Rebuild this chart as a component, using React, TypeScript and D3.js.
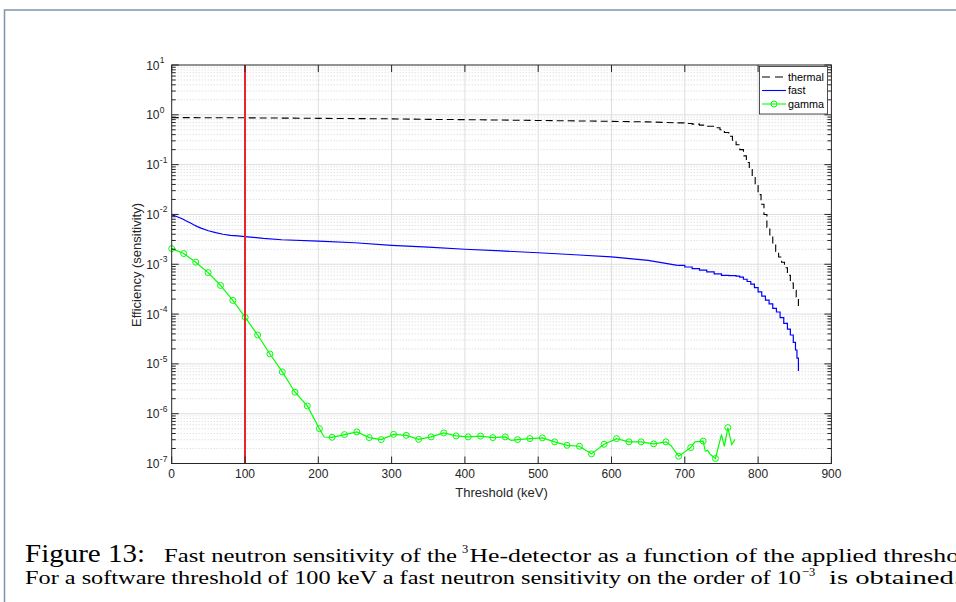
import React from 'react';
import * as d3 from 'd3';

const xTicks = [0, 100, 200, 300, 400, 500, 600, 700, 800, 900];
const yExponents = [1, 0, -1, -2, -3, -4, -5, -6, -7];

// thermal: [keV, efficiency]
const thermalHead: number[][] = [
  [0, 0.88], [50, 0.875], [100, 0.87], [150, 0.86], [200, 0.85], [250, 0.84], [300, 0.83],
  [350, 0.81], [400, 0.8], [450, 0.785], [500, 0.77], [550, 0.755], [600, 0.74], [650, 0.72], [690, 0.69],
];
const thermalTail: number[][] = [
  [690, 0.69], [700, 0.67], [710, 0.65], [720, 0.62], [730, 0.59], [740, 0.55], [748, 0.5], [754, 0.44],
  [760, 0.37], [765, 0.31], [770, 0.25], [775, 0.2], [780, 0.15], [784, 0.11], [788, 0.08], [792, 0.055],
  [796, 0.038], [800, 0.025], [804, 0.016], [808, 0.01], [812, 0.0055], [816, 0.0036], [820, 0.0026],
  [824, 0.0018], [828, 0.0014], [832, 0.0011], [836, 0.00085], [840, 0.0006], [844, 0.00042],
  [848, 0.0003], [852, 0.00022], [855, 0.00014],
];

// fast: [keV, efficiency]
const fastHead: number[][] = [
  [0, 0.0098], [5, 0.0093], [10, 0.0087], [15, 0.0081], [20, 0.0074], [25, 0.0068], [30, 0.0062],
  [35, 0.0057], [40, 0.0053], [50, 0.0047], [60, 0.0043], [70, 0.004], [80, 0.0038], [90, 0.0037],
  [100, 0.0036], [125, 0.0033], [150, 0.0031], [200, 0.0029], [250, 0.0027], [300, 0.0024],
  [350, 0.0022], [400, 0.002], [450, 0.00185], [500, 0.0017], [550, 0.00155], [600, 0.0014],
  [650, 0.0012], [690, 0.00095],
];
const fastTail: number[][] = [
  [690, 0.00095], [700, 0.00088], [710, 0.00082], [720, 0.00076], [730, 0.0007], [740, 0.00064],
  [750, 0.0006], [760, 0.00059], [770, 0.00058], [775, 0.00055], [780, 0.0005], [785, 0.00045],
  [790, 0.0004], [795, 0.00034], [800, 0.00028], [805, 0.00023], [810, 0.00019], [815, 0.00016],
  [820, 0.00013], [825, 0.00011], [830, 0.000085], [835, 0.000065], [840, 0.00005], [844, 0.000038],
  [848, 0.000027], [851, 0.000019], [853, 0.000013], [855, 0.0000072],
];

// gamma: [keV, efficiency, marker(1/0)]
const gammaPts: number[][] = [
  [0, 2.06e-3, 1], [16.4, 1.64e-3, 1], [32.8, 1.1e-3, 1], [49.7, 6.8e-4, 1], [66.6, 3.75e-4, 1],
  [83.4, 1.88e-4, 1], [100.3, 8.6e-5, 1], [117.2, 3.8e-5, 1], [134, 1.58e-5, 1], [150.9, 6.9e-6, 1],
  [168.2, 2.7e-6, 1], [185, 1.43e-6, 1], [201.5, 5.0e-7, 1], [208, 3.4e-7, 0], [218.8, 3.36e-7, 1],
  [235.7, 3.8e-7, 1], [252.6, 4.3e-7, 1], [269.5, 3.31e-7, 1], [285.9, 3.02e-7, 1], [302.7, 3.85e-7, 1],
  [320, 3.68e-7, 1], [336.9, 3.06e-7, 1], [353.9, 3.42e-7, 1], [371.1, 4.11e-7, 1], [388, 3.58e-7, 1],
  [404.5, 3.42e-7, 1], [421.3, 3.55e-7, 1], [438.1, 3.31e-7, 1], [455.1, 3.42e-7, 1], [463, 2.9e-7, 0],
  [471.9, 3.02e-7, 1], [488.7, 3.16e-7, 1], [505.7, 3.27e-7, 1], [522.5, 2.72e-7, 1], [539.3, 2.32e-7, 1],
  [556.3, 2.22e-7, 1], [572.7, 1.56e-7, 1], [589.9, 2.43e-7, 1], [606.9, 3.16e-7, 1], [623.7, 2.72e-7, 1],
  [640.5, 2.72e-7, 1], [657.5, 2.48e-7, 1], [674.3, 2.72e-7, 1], [681, 2.3e-7, 0], [691.7, 1.4e-7, 1],
  [708.1, 2.09e-7, 1], [713.7, 2.72e-7, 0], [725, 2.82e-7, 1], [728, 1.76e-7, 0], [731, 1.84e-7, 0],
  [735, 1.51e-7, 0], [741.8, 1.26e-7, 1], [750, 3.8e-7, 0], [754, 2.2e-7, 0], [758.7, 5.25e-7, 1],
  [764, 2.4e-7, 0], [768.6, 3.06e-7, 0],
];

const thresholdKeV = 100;
const legendItems = ['thermal', 'fast', 'gamma'];

const SANS = '"Liberation Sans", Arial, Helvetica, sans-serif';
const SERIF = '"Liberation Serif", "Times New Roman", serif';
const AX = '#262626';

export default function App() {
  const W = 956, H = 602;
  const X0 = 171.7, X1 = 831.4, Y0 = 65, Y1 = 463.5;
  const x = d3.scaleLinear().domain([0, 900]).range([X0, X1]);
  const y = d3.scaleLog().domain([1e-7, 10]).range([Y1, Y0]);
  const lin = d3.line<number[]>().x((d) => x(d[0])).y((d) => y(d[1]));
  const step = d3.line<number[]>().x((d) => x(d[0])).y((d) => y(d[1])).curve(d3.curveStepAfter);

  const minorVals: number[] = [];
  for (let e = -7; e <= 0; e++) for (let k = 2; k <= 9; k++) minorVals.push(k * Math.pow(10, e));

  const legY = [77, 90.5, 104];
  const dash = '7 4';

  return (
    <svg width={W} height={H} style={{ position: 'absolute', left: 0, top: 0, background: '#fff' }}>
      <rect x={0} y={0} width={W} height={H} fill="#fff" />
      <path d={`M4.5,${H} L4.5,10 L${W},10`} fill="none" stroke="#7f95ad" strokeWidth={1.5} />

      {/* minor grid */}
      {minorVals.map((v, i) => (
        <line key={'mg' + i} x1={X0} x2={X1} y1={y(v)} y2={y(v)} stroke="#c9c9c9" strokeWidth={0.8} strokeDasharray="1 2" />
      ))}
      {/* major grid */}
      {yExponents.slice(1, -1).map((e) => (
        <line key={'gy' + e} x1={X0} x2={X1} y1={y(Math.pow(10, e))} y2={y(Math.pow(10, e))} stroke="#dedede" strokeWidth={1} />
      ))}
      {xTicks.slice(1, -1).map((t) => (
        <line key={'gx' + t} x1={x(t)} x2={x(t)} y1={Y0} y2={Y1} stroke="#dedede" strokeWidth={1} />
      ))}

      {/* data */}
      <path d={lin(thermalHead) || ''} fill="none" stroke="#000" strokeWidth={1.1} strokeDasharray={dash} />
      <path d={step(thermalTail) || ''} fill="none" stroke="#000" strokeWidth={1.1} strokeDasharray={dash} />
      <path d={lin(fastHead) || ''} fill="none" stroke="#0000ff" strokeWidth={1.2} />
      <path d={step(fastTail) || ''} fill="none" stroke="#0000ff" strokeWidth={1.2} />
      <path d={lin(gammaPts) || ''} fill="none" stroke="#00ff00" strokeWidth={1.2} />
      {gammaPts.filter((d) => d[2] === 1).map((d, i) => (
        <circle key={'gm' + i} cx={x(d[0])} cy={y(d[1])} r={3} fill="none" stroke="#00ff00" strokeWidth={1} />
      ))}

      {/* threshold line */}
      <line x1={x(thresholdKeV)} x2={x(thresholdKeV)} y1={Y0} y2={Y1} stroke="#e8262a" strokeWidth={2} />

      {/* axes box */}
      <rect x={X0} y={Y0} width={X1 - X0} height={Y1 - Y0} fill="none" stroke={AX} strokeWidth={1} />
      {xTicks.map((t) => (
        <g key={'xt' + t}>
          <line x1={x(t)} x2={x(t)} y1={Y1} y2={Y1 - 7} stroke={AX} />
          <line x1={x(t)} x2={x(t)} y1={Y0} y2={Y0 + 7} stroke={AX} />
          <text x={x(t)} y={477.5} textAnchor="middle" fontFamily={SANS} fontSize={12} fill={AX}>{t}</text>
        </g>
      ))}
      {yExponents.map((e) => {
        const yy = y(Math.pow(10, e));
        return (
          <g key={'yt' + e}>
            <line x1={X0} x2={X0 + 7} y1={yy} y2={yy} stroke={AX} />
            <line x1={X1} x2={X1 - 7} y1={yy} y2={yy} stroke={AX} />
            <text x={159.5} y={yy + 4.5} textAnchor="end" fontFamily={SANS} fontSize={12} fill={AX}>10</text>
            <text x={159.8} y={yy - 2} textAnchor="start" fontFamily={SANS} fontSize={8.5} fill={AX}>{String(e)}</text>
          </g>
        );
      })}
      {minorVals.map((v, i) => (
        <g key={'mt' + i}>
          <line x1={X0} x2={X0 + 4} y1={y(v)} y2={y(v)} stroke={AX} />
          <line x1={X1} x2={X1 - 4} y1={y(v)} y2={y(v)} stroke={AX} />
        </g>
      ))}
      <text x={(X0 + X1) / 2} y={496.5} textAnchor="middle" fontFamily={SANS} fontSize={13} fill={AX}>Threshold (keV)</text>
      <text transform={`translate(136,265) rotate(-90)`} dy="0.35em" textAnchor="middle" fontFamily={SANS} fontSize={13} fill={AX}>Efficiency (sensitivity)</text>

      {/* legend */}
      <rect x={759.5} y={66.5} width={68} height={47.5} fill="#fff" stroke={AX} strokeWidth={0.8} />
      {legendItems.map((name, i) => {
        const ly = legY[i];
        const col = i === 0 ? '#000' : i === 1 ? '#0000ff' : '#00ff00';
        return (
          <g key={'lg' + name}>
            <line x1={762} x2={786} y1={ly} y2={ly} stroke={col} strokeWidth={1.1} strokeDasharray={i === 0 ? '8 5' : undefined} />
            {i === 2 && <circle cx={774} cy={ly} r={3} fill="none" stroke={col} strokeWidth={1} />}
            <text x={788} y={ly + 3.8} fontFamily={SANS} fontSize={10.8} fill="#000">{name}</text>
          </g>
        );
      })}

      {/* caption */}
      <text x={25} y={561.7} fontFamily={SERIF} fontSize={25} textLength={120} lengthAdjust="spacingAndGlyphs" fill="#000">Figure 13:</text>
      <text x={164} y={561.7} fontFamily={SERIF} fontSize={18} textLength={293} lengthAdjust="spacingAndGlyphs" fill="#000">Fast neutron sensitivity of the</text>
      <text x={462} y={553} fontFamily={SERIF} fontSize={12.5} fill="#000">3</text>
      <text x={469.5} y={561.7} fontFamily={SERIF} fontSize={18} textLength={516} lengthAdjust="spacingAndGlyphs" fill="#000">He-detector as a function of the applied threshold.</text>
      <text x={25} y={584.3} fontFamily={SERIF} fontSize={18} textLength={776} lengthAdjust="spacingAndGlyphs" fill="#000">For a software threshold of 100 keV a fast neutron sensitivity on the order of 10</text>
      <text x={802} y={576} fontFamily={SERIF} fontSize={12.5} fill="#000">−3</text>
      <text x={829} y={584.3} fontFamily={SERIF} fontSize={18} textLength={132} lengthAdjust="spacingAndGlyphs" fill="#000">is obtained.</text>
    </svg>
  );
}
